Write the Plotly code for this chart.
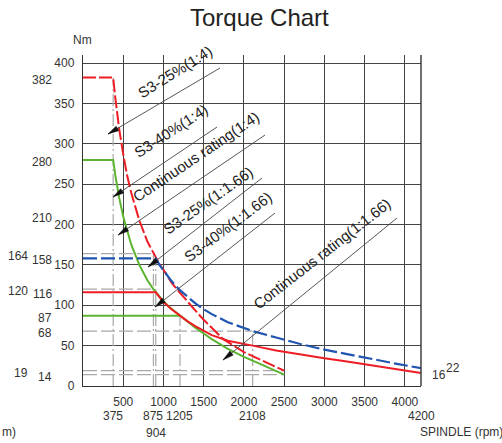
import plotly.graph_objects as go
import math

# ---------------- data ----------------
# S3-25% (1:4) - red dashed
s3_25_14_x = [0, 375, 400, 450, 500, 550, 600, 700, 800, 875, 950, 1000, 1100, 1200, 1300, 1400, 1500, 1600, 1743, 2000, 2250, 2500]
s3_25_14_y = [382, 382, 358, 318, 287, 260, 239, 205, 179, 164, 151, 144, 128, 116, 104, 93, 82, 72, 58, 42, 30, 19]

# Continuous rating (1:4) - green
cont_14_x = [0, 375, 400, 450, 500, 550, 600, 700, 800, 875, 950, 1000, 1100, 1205, 1300, 1400, 1500, 1600, 1800, 2000, 2200, 2400, 2500]
cont_14_y = [280, 280, 262, 233, 210, 191, 175, 150, 131, 120, 111, 105, 95.5, 87, 80, 72, 65, 58, 46, 36, 27.5, 19, 14]

# green flat segment (1:1.66)
cont_166_flat_x = [0, 1205]
cont_166_flat_y = [87, 87]

# S3-25% (1:1.66) - blue dashed
s3_25_166_x = [0, 904, 950, 1000, 1100, 1200, 1300, 1400, 1500, 1600, 1800, 2000, 2108, 2400, 2700, 3000, 3300, 3600, 3900, 4200]
s3_25_166_y = [158, 158, 150, 143, 130, 119, 110, 102, 95, 89, 79, 71.5, 68, 60, 52, 45, 39, 33, 27.5, 22]

# red solid (1:1.66)
s3_40_166_x = [0, 904, 950, 1000, 1100, 1200, 1300, 1400, 1500, 1600, 1800, 2000, 2108, 2400, 2700, 3000, 3300, 3600, 3900, 4200]
s3_40_166_y = [116, 116, 110, 104, 95, 87, 80, 74, 68, 63, 56, 51.5, 50, 44, 39, 34.5, 30, 25.5, 21, 16]

# reference (gray dashed) lines
ref_v_x = [375, 875, 904, 1205, 2108]
ref_v_top = [382, 164, 158, 87, 68]
ref_h_y = [164, 120, 68, 19, 14]
ref_h_end = [875, 875, 2108, 2500, 2500]

x_ticks = [0, 500, 1000, 1500, 2000, 2500, 3000, 3500, 4000]
x_ticktext = ["", "500", "1000", "1500", "2000", "2500", "3000", "3500", "4000"]
y_ticks = [0, 50, 100, 150, 200, 250, 300, 350, 400]

x_extra = [375, 875, 1205, 2108, 4200]
x_extra2 = [904]
y_extra_inner = [382, 280, 210, 158, 116, 87, 68, 14]
y_extra_outer = [164, 120, 19]

labels = ["S3-25%(1:4)", "S3-40%(1:4)", "Continuous rating(1:4)",
          "S3-25%(1:1.66)", "S3-40%(1:1.66)", "Continuous rating(1:1.66)"]

# ---------------- geometry ----------------
W, H = 502, 443
ML, MR, MT, MB = 83, 81, 55, 57
XMAX, YMAX = 4200, 410
PW, PH = W - ML - MR, H - MT - MB


def px2x(px):
    return (px - ML) / PW * XMAX


def py2y(py):
    return (H - MB - py) / PH * YMAX


FONT = "Liberation Sans, Arial, sans-serif"
RED, GREEN, BLUE, GRAY = "#ee1c25", "#5cb531", "#1f55b0", "#a8a8a8"

fig = go.Figure()

# reference dashed lines
for xv, top in zip(ref_v_x, ref_v_top):
    fig.add_trace(go.Scatter(x=[xv, xv], y=[0, top], mode="lines",
                             line=dict(color=GRAY, width=1.2, dash="12px,3px,2px,3px"),
                             hoverinfo="skip", showlegend=False))
for yv, end in zip(ref_h_y, ref_h_end):
    fig.add_trace(go.Scatter(x=[0, end], y=[yv, yv], mode="lines",
                             line=dict(color=GRAY, width=1.2, dash="14px,4px"),
                             hoverinfo="skip", showlegend=False))

fig.add_trace(go.Scatter(x=cont_166_flat_x, y=cont_166_flat_y, mode="lines",
                         line=dict(color=GREEN, width=2), showlegend=False))
fig.add_trace(go.Scatter(x=cont_14_x, y=cont_14_y, mode="lines",
                         line=dict(color=GREEN, width=2), showlegend=False))
fig.add_trace(go.Scatter(x=s3_40_166_x, y=s3_40_166_y, mode="lines",
                         line=dict(color=RED, width=2), showlegend=False))
fig.add_trace(go.Scatter(x=s3_25_14_x, y=s3_25_14_y, mode="lines",
                         line=dict(color=RED, width=2, dash="13px,3px"), showlegend=False))
fig.add_trace(go.Scatter(x=s3_25_166_x, y=s3_25_166_y, mode="lines",
                         line=dict(color=BLUE, width=2.2, dash="14px,4px"), showlegend=False))

shapes = []
annotations = []

# right border
shapes.append(dict(type="line", xref="x domain", yref="y domain", x0=1, x1=1, y0=0, y1=1,
                   line=dict(color="#333", width=1.4)))

# leader lines with arrows (pixel geometry)
tips = [(108, 134), (113, 197), (118, 235), (148, 267), (155, 307), (223, 360)]
tails = [(220, 68), (217, 127), (265, 135), (262, 178), (275, 213), (397, 218)]
for (tx, ty), (ex, ey) in zip(tips, tails):
    shapes.append(dict(type="line", xref="x", yref="y",
                       x0=px2x(tx), y0=py2y(ty), x1=px2x(ex), y1=py2y(ey),
                       line=dict(color="#444", width=0.9)))
    dx, dy = ex - tx, ey - ty
    ln = math.hypot(dx, dy)
    ux, uy = dx / ln, dy / ln
    bx, by = tx + ux * 11, ty + uy * 11
    nx, ny = -uy * 2.6, ux * 2.6
    pts = [(tx, ty), (bx + nx, by + ny), (bx - nx, by - ny)]
    path = "M " + " L ".join(f"{px2x(a)},{py2y(b)}" for a, b in pts) + " Z"
    shapes.append(dict(type="path", xref="x", yref="y", path=path,
                       fillcolor="#111", line=dict(color="#111", width=0.5)))

# rotated labels (centres in pixels, then lifted a little off the leader line)
centers = [(178, 76), (174, 135), (199, 161), (211, 205), (231, 230), (325, 257)]
angles = [32, 33, 34, 35, 37, 38]
LIFT = 5
for txt, (cx, cy), ang in zip(labels, centers, angles):
    a = math.radians(ang)
    cx2, cy2 = cx - LIFT * math.sin(a), cy - LIFT * math.cos(a)
    annotations.append(dict(text=txt, x=px2x(cx2), y=py2y(cy2), xref="x", yref="y",
                            showarrow=False, textangle=-ang, xanchor="center", yanchor="middle",
                            font=dict(family=FONT, size=15, color="#222")))

# title & axis captions
annotations.append(dict(text="Torque Chart", x=(259 - ML) / PW, y=py2y(18) / YMAX, xref="paper", yref="paper",
                        showarrow=False, xanchor="center", yanchor="middle",
                        font=dict(family=FONT, size=24, color="#222")))
annotations.append(dict(text="Nm", x=(82 - ML) / PW, y=py2y(40) / YMAX, xref="paper", yref="paper",
                        showarrow=False, xanchor="center", yanchor="middle",
                        font=dict(family=FONT, size=12, color="#333")))
annotations.append(dict(text="SPINDLE (rpm)", x=(418 - ML) / PW, y=py2y(432) / YMAX, xref="paper", yref="paper",
                        showarrow=False, xanchor="left", yanchor="middle",
                        font=dict(family=FONT, size=12, color="#333")))
annotations.append(dict(text="m)", x=(0 - ML) / PW, y=py2y(432) / YMAX, xref="paper", yref="paper",
                        showarrow=False, xanchor="left", yanchor="middle",
                        font=dict(family=FONT, size=12, color="#333")))

# extra x labels
for xv in x_extra:
    annotations.append(dict(text=str(xv), x=xv, y=py2y(416) / YMAX, xref="x", yref="paper",
                            showarrow=False, xanchor="center", yanchor="middle",
                            font=dict(family=FONT, size=12, color="#333")))
for xv in x_extra2:
    annotations.append(dict(text=str(xv), x=xv, y=py2y(433) / YMAX, xref="x", yref="paper",
                            showarrow=False, xanchor="center", yanchor="middle",
                            font=dict(family=FONT, size=12, color="#333")))

# extra y labels
for yv in y_extra_inner:
    annotations.append(dict(text=str(yv), x=0, y=yv, xref="x", yref="y", showarrow=False,
                            xanchor="right", yanchor="middle", xshift=-29, yshift=-2,
                            font=dict(family=FONT, size=12, color="#333")))
for yv in y_extra_outer:
    annotations.append(dict(text=str(yv), x=0, y=yv, xref="x", yref="y", showarrow=False,
                            xanchor="right", yanchor="middle", xshift=-53, yshift=-2,
                            font=dict(family=FONT, size=12, color="#333")))

# end values on the right
annotations.append(dict(text=str(s3_40_166_y[-1]), x=s3_40_166_x[-1], y=s3_40_166_y[-1], xref="x", yref="y",
                        showarrow=False, xanchor="left", yanchor="middle", xshift=9, yshift=-2,
                        font=dict(family=FONT, size=12, color="#333")))
annotations.append(dict(text=str(s3_25_166_y[-1]), x=s3_25_166_x[-1], y=s3_25_166_y[-1], xref="x", yref="y",
                        showarrow=False, xanchor="left", yanchor="middle", xshift=23, yshift=0,
                        font=dict(family=FONT, size=12, color="#333")))

fig.update_layout(
    width=W, height=H,
    margin=dict(l=ML, r=MR, t=MT, b=MB),
    paper_bgcolor="white", plot_bgcolor="white",
    showlegend=False,
    shapes=shapes, annotations=annotations,
    xaxis=dict(range=[0, XMAX], tickvals=x_ticks, ticktext=x_ticktext, showgrid=True,
               gridcolor="#444", gridwidth=1.2, zeroline=False, showline=True,
               linecolor="#333", linewidth=1.4, ticks="", ticklabelstandoff=4,
               tickfont=dict(family=FONT, size=12, color="#333")),
    yaxis=dict(range=[0, YMAX], tickvals=y_ticks, showgrid=True,
               gridcolor="#444", gridwidth=1.2, zeroline=False, showline=True,
               linecolor="#333", linewidth=1.4, ticks="", ticklabelstandoff=5,
               tickfont=dict(family=FONT, size=12, color="#333")),
)

fig.write_html("out.html")
